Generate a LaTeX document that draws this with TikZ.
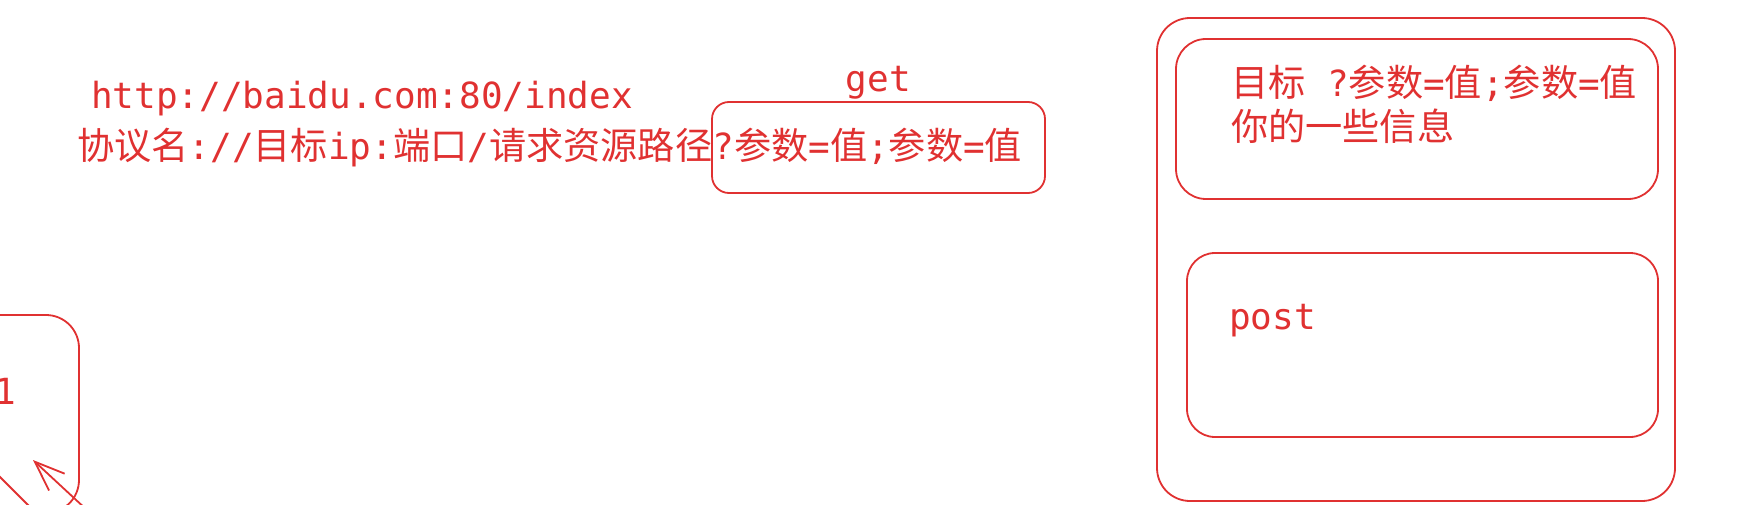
\documentclass[tikz,border=0pt]{standalone}
\usepackage{fontspec}
\setmonofont{DejaVu Sans Mono}
\newfontfamily\cjk[Scale=1.033]{Noto Sans CJK SC}
\usetikzlibrary{arrows.meta,positioning}
\definecolor{inkred}{HTML}{E03131}
\newcommand{\zh}[1]{{\cjk #1}}
\tikzset{txt/.style = {inner sep = 0, text = inkred, font = \ttfamily\fontsize{36}{44}\selectfont}}
\tikzset{box/.style = {draw = inkred, line width = 1.8pt, rounded corners = #1, inner sep = 0}, box/.default = 30pt}
\tikzset{conn/.style = {draw = inkred, line width = 1.8pt, line cap = round}}

\begin{document}
\begin{tikzpicture}[x = 1pt, y = -1pt]
    \useasboundingbox (0,0) rectangle (1751,505);
    \clip (0,0) rectangle (1751,505);
    % url and its parts
    \node [txt, anchor = base west] (url) at (91,109) {http://baidu.com:80/index};
    \node [txt, anchor = base west] (parts) at (77,160) {\zh{协议名}://\zh{目标}ip:\zh{端口}/\zh{请求资源路径}?\zh{参数}=\zh{值};\zh{参数}=\zh{值}};
    \node [box = 17pt, minimum width = 333, minimum height = 91] (getbox) at (878.5,147.5) {};
    \node [txt, anchor = base] (get) at ([yshift = 10pt]getbox.north) {get};
    % request
    \node [box = 33pt, minimum width = 518, minimum height = 483] (req) at (1416,259.5) {};
    \node [box = 30pt, minimum width = 482, minimum height = 160] (head) at (1417,119) {};
    \node [box = 28pt, minimum width = 471, minimum height = 184] (body) at (1422.5,345) {};
    \node [txt, anchor = base west] (info1) at (1231,97) {\zh{目标} ?\zh{参数}=\zh{值};\zh{参数}=\zh{值}};
    \node [txt, anchor = base west] (info2) at ([yshift = -44pt]info1.base west) {\zh{你的一些信息}};
    \node [txt, anchor = base west] (post) at (1229,329) {post};
    % cut-off box on the left
    \node [box = 33pt, minimum width = 379, minimum height = 198] (side) at (-110.5,414) {};
    \node [txt, anchor = base east] (one) at (16,404) {1};
    \coordinate (arrtail) at (88,511);
    \coordinate (arrtip) at (33,460);
    \draw [conn, -{Straight Barb[length = 30pt, width = 23pt]}] (arrtail) -- (arrtip);
    \coordinate (lnA) at (-10,467);
    \coordinate (lnB) at (40,517);
    \draw [conn] (lnA) -- (lnB);
\end{tikzpicture}
\end{document}
